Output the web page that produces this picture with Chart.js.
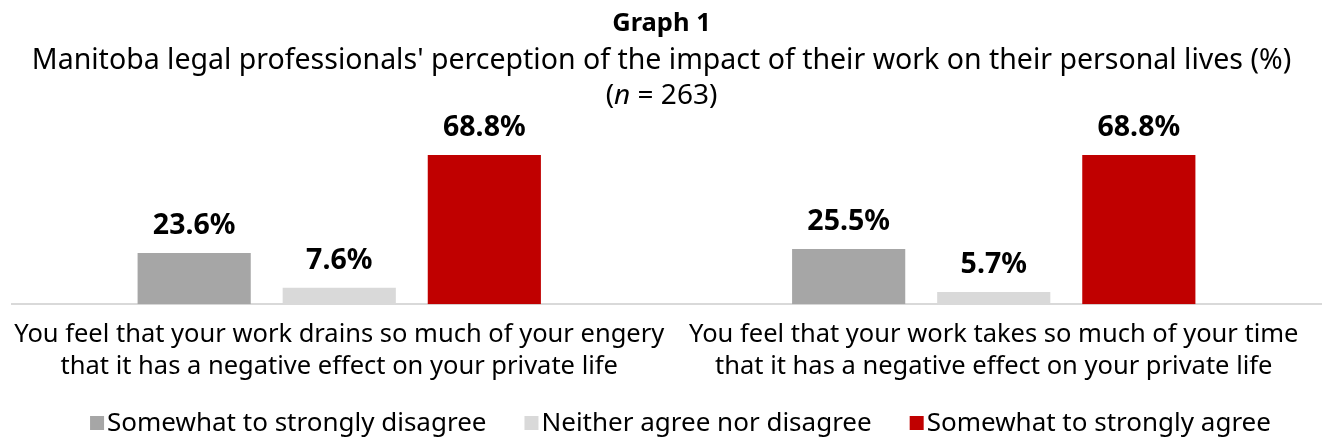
<!DOCTYPE html>
<html>
<head>
<meta charset="utf-8">
<script src="https://cdn.jsdelivr.net/npm/chart.js@4.4.1/dist/chart.umd.min.js"></script>
<style>
  html, body { margin: 0; padding: 0; background: #fff; }
  #wrap { width: 1323px; height: 445px; }
</style>
</head>
<body>
<div id="wrap"><canvas id="chart"></canvas></div>
<script>
const categories = [
  ['You feel that your work drains so much of your engery', 'that it has a negative effect on your private life'],
  ['You feel that your work takes so much of your time', 'that it has a negative effect on your private life']
];
const seriesNames = ['Somewhat to strongly disagree', 'Neither agree nor disagree', 'Somewhat to strongly agree'];
const disagree = [23.6, 25.5];
const neither = [7.6, 5.7];
const agree = [68.8, 68.8];
const colors = ['#a6a6a6', '#d9d9d9', '#c00000'];

const FONT = '"Noto Sans", sans-serif';

// title block drawn on the canvas (italic n needs mixed fonts)
const titlePlugin = {
  id: 'titleBlock',
  afterDraw(chart) {
    const ctx = chart.ctx;
    const cx = chart.width / 2;
    ctx.save();
    ctx.fillStyle = '#000';
    ctx.textBaseline = 'middle';
    ctx.textAlign = 'center';
    ctx.font = 'bold 25.5px ' + FONT;
    ctx.fillText('Graph 1', cx, 24);
    ctx.font = '28.5px ' + FONT;
    ctx.fillText("Manitoba legal professionals' perception of the impact of their work on their personal lives (%)", cx, 61);
    // (n = 263)
    const parts = [['(', '28px '], ['n', 'italic 28px '], [' = 263)', '28px ']];
    let total = 0;
    parts.forEach(p => { ctx.font = p[1] + FONT; total += ctx.measureText(p[0]).width; });
    let x = cx - total / 2;
    ctx.textAlign = 'left';
    parts.forEach(p => {
      ctx.font = p[1] + FONT;
      ctx.fillText(p[0], x, 96);
      x += ctx.measureText(p[0]).width;
    });
    ctx.restore();
  }
};

// legend drawn by hand: small squares sitting close to their text
const legendPlugin = {
  id: 'bottomLegend',
  afterDraw(chart) {
    const ctx = chart.ctx;
    const box = 14, gap = 3, itemGap = 38, y = 423;
    ctx.save();
    ctx.font = '26px ' + FONT;
    ctx.textBaseline = 'middle';
    ctx.textAlign = 'left';
    const items = chart.data.datasets.map(ds => ({ text: ds.label, color: ds.backgroundColor, w: ctx.measureText(ds.label).width }));
    const total = items.reduce((s, it) => s + box + gap + it.w, 0) + itemGap * (items.length - 1);
    let x = chart.width / 2 + 19 - total / 2;
    items.forEach(it => {
      ctx.fillStyle = it.color;
      ctx.fillRect(x, y - box / 2, box, box);
      ctx.fillStyle = '#000';
      ctx.fillText(it.text, x + box + gap, y + 1);
      x += box + gap + it.w + itemGap;
    });
    ctx.restore();
  }
};

const valueLabels = {
  id: 'valueLabels',
  afterDatasetsDraw(chart) {
    const ctx = chart.ctx;
    ctx.save();
    ctx.font = 'bold 28.5px ' + FONT;
    ctx.fillStyle = '#000';
    ctx.textAlign = 'center';
    ctx.textBaseline = 'middle';
    chart.data.datasets.forEach((ds, i) => {
      chart.getDatasetMeta(i).data.forEach((bar, j) => {
        ctx.fillText(ds.data[j].toFixed(1) + '%', bar.x, bar.y - 27);
      });
    });
    ctx.restore();
  }
};

new Chart(document.getElementById('chart'), {
  type: 'bar',
  data: {
    labels: categories,
    datasets: [
      { label: seriesNames[0], data: disagree, backgroundColor: colors[0] },
      { label: seriesNames[1], data: neither, backgroundColor: colors[1] },
      { label: seriesNames[2], data: agree, backgroundColor: colors[2] }
    ]
  },
  options: {
    responsive: true,
    maintainAspectRatio: false,
    animation: false,
    categoryPercentage: 0.665,
    barPercentage: 0.78,
    layout: { padding: { top: 120, left: 12, right: 2, bottom: 55 } },
    plugins: {
      title: { display: false },
      tooltip: { enabled: false },
      legend: { display: false }
    },
    scales: {
      x: {
        grid: { display: false },
        border: { display: true, color: '#d9d9d9', width: 2 },
        ticks: {
          color: '#000',
          font: { family: FONT, size: 25.5, lineHeight: 1.25 },
          maxRotation: 0,
          autoSkip: false,
          padding: 7
        }
      },
      y: { display: false, min: 0, max: 85 }
    }
  },
  plugins: [titlePlugin, valueLabels, legendPlugin]
});
</script>
</body>
</html>
